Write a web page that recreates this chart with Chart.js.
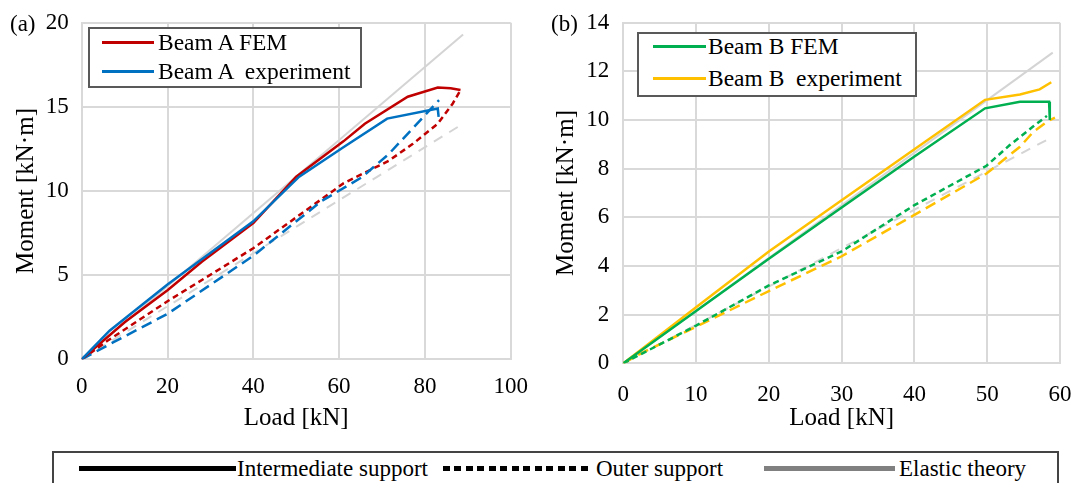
<!DOCTYPE html>
<html>
<head>
<meta charset="utf-8">
<script src="https://cdn.jsdelivr.net/npm/chart.js@4.4.0/dist/chart.umd.min.js"></script>
<style>
  body { margin: 0; background: #fff; font-family: "Liberation Serif", "Times New Roman", serif; }
  #page { position: relative; width: 1075px; height: 483px; overflow: hidden; background: #fff; }
  canvas { position: absolute; top: 0; }
  .tag { position: absolute; font-size: 23px; line-height: 1; color: #000; }
  .box { position: absolute; box-sizing: border-box; border: 2px solid #595959; background: #fff; }
  .txt { position: absolute; line-height: 1; white-space: pre; color: #000; }
  .sw { position: absolute; }
</style>
</head>
<body>
<div id="page">
  <canvas id="chartA" width="540" height="445" style="left:0px"></canvas>
  <canvas id="chartB" width="535" height="445" style="left:540px"></canvas>

  <div class="tag" style="left:10px; top:12px">(a)</div>
  <div class="tag" style="left:551px; top:12px">(b)</div>

  <!-- series legend, beam A -->
  <div class="box" style="left:88px; top:27px; width:274px; height:61px"></div>
  <div class="sw" style="left:102px; top:41px; width:52px; height:3px; background:#C00000"></div>
  <div class="txt" style="left:158px; top:31px; font-size:23.5px">Beam A FEM</div>
  <div class="sw" style="left:102px; top:70px; width:52px; height:3px; background:#0070C0"></div>
  <div class="txt" style="left:158px; top:60px; font-size:23.5px">Beam A  experiment</div>

  <!-- series legend, beam B -->
  <div class="box" style="left:637px; top:32px; width:280px; height:65px"></div>
  <div class="sw" style="left:653px; top:45px; width:53px; height:3px; background:#00B050"></div>
  <div class="txt" style="left:708px; top:35px; font-size:23.5px">Beam B FEM</div>
  <div class="sw" style="left:653px; top:77px; width:53px; height:3px; background:#FFC000"></div>
  <div class="txt" style="left:708px; top:67px; font-size:23.5px">Beam B  experiment</div>

  <!-- line style legend -->
  <div class="box" style="left:52px; top:451px; width:1007px; height:45px; border-color:#444"></div>
  <div class="sw" style="left:79px; top:466px; width:157px; height:5px; background:#000"></div>
  <div class="txt" style="left:237px; top:457px; font-size:23px">Intermediate support</div>
  <div class="sw" style="left:443px; top:466px; width:149px; height:5px; background:repeating-linear-gradient(to right, #000 0 7px, transparent 7px 11.5px)"></div>
  <div class="txt" style="left:596px; top:457px; font-size:23px">Outer support</div>
  <div class="sw" style="left:764px; top:466px; width:131px; height:5px; background:#808080"></div>
  <div class="txt" style="left:899px; top:457px; font-size:23px">Elastic theory</div>
</div>

<script>
// Beam A: load [kN] vs moment [kN·m]
const loadA_femInter = [0, 10, 20, 28, 40, 50, 61, 66, 76, 83, 86, 88.3];
const momentA_femInter = [0, 2.2, 4.1, 5.8, 8.1, 10.85, 12.95, 14.0, 15.6, 16.15, 16.1, 16.0];
const loadA_expInter = [0, 6.5, 20, 40, 50.7, 61, 71.2, 83, 83.2];
const momentA_expInter = [0, 1.7, 4.45, 8.2, 10.85, 12.6, 14.3, 14.9, 14.4];
const loadA_femOuter = [0, 6, 20, 40, 61, 71.6, 77.2, 83, 86.5, 88.3];
const momentA_femOuter = [0, 1.1, 3.45, 6.6, 10.45, 11.8, 12.8, 14.0, 15.2, 16.0];
const loadA_expOuter = [0, 7.3, 20, 40, 55.9, 65.2, 71.6, 83.3];
const momentA_expOuter = [0, 1.0, 2.7, 6.15, 9.4, 10.8, 12.2, 15.4];
const loadA_elastic = [0, 88.9];
const momentA_elasticInter = [0, 19.3];
const momentA_elasticOuter = [0, 14.0];

// Beam B
const loadB_femInter = [0, 10, 20, 30, 40, 49.7, 54.5, 58.5, 58.6];
const momentB_femInter = [0, 2.15, 4.3, 6.4, 8.5, 10.48, 10.75, 10.75, 10.0];
const loadB_expInter = [0, 10, 20, 30, 40, 49.7, 54.5, 57.2, 58.8];
const momentB_expInter = [0, 2.3, 4.6, 6.7, 8.8, 10.83, 11.05, 11.26, 11.55];
const loadB_femOuter = [0, 10, 20, 30, 40, 49.9, 53.1, 56.3, 58.2];
const momentB_femOuter = [0, 1.55, 3.2, 4.6, 6.5, 8.12, 8.97, 9.73, 10.17];
const loadB_expOuter = [0, 2.7, 10, 20, 30, 40, 49.9, 54.5, 56.3, 58.2, 59.3];
const momentB_expOuter = [0, 0.45, 1.5, 2.97, 4.4, 6.1, 7.8, 8.9, 9.5, 9.93, 10.1];
const loadB_elastic = [0, 59.0];
const momentB_elasticInter = [0, 12.77];
const momentB_elasticOuter = [0, 9.31];

const FONT = "'Liberation Serif', 'Times New Roman', serif";
const GRID = '#D9D9D9';
const ELASTIC = '#D4D4D4';

function pts(xs, ys) {
    return xs.map((x, i) => ({ x: x, y: ys[i] }));
}

function series(label, xs, ys, color, dash, width) {
    return {
        label: label,
        data: pts(xs, ys),
        borderColor: color,
        backgroundColor: color,
        borderWidth: width,
        borderDash: dash,
        pointRadius: 0,
        fill: false,
        tension: 0
    };
}

// fixed scale sizes keep the plot area where it belongs
function makeOptions(s) {
    return {
        responsive: false,
        animation: false,
        devicePixelRatio: 1,
        layout: { padding: s.padding },
        plugins: { legend: { display: false }, tooltip: { enabled: false } },
        scales: {
            x: {
                type: 'linear',
                min: 0, max: s.xMax,
                ticks: { stepSize: s.xStep, color: '#000', font: { family: FONT, size: 23 }, padding: s.xTickPad, maxRotation: 0 },
                grid: { color: GRID, lineWidth: 2, drawTicks: false },
                border: { color: GRID, width: 2 },
                title: { display: true, text: 'Load [kN]', color: '#000', font: { family: FONT, size: 25 }, padding: 0 },
                afterFit: (sc) => {
                    sc.height = s.xHeight;
                    sc.paddingLeft = 0; sc.paddingRight = 0;
                }
            },
            y: {
                min: 0, max: s.yMax,
                ticks: { stepSize: s.yStep, color: '#000', font: { family: FONT, size: 23 }, padding: s.yTickPad },
                grid: { color: GRID, lineWidth: 2, drawTicks: false },
                border: { color: GRID, width: 2 },
                title: { display: true, text: 'Moment [kN·m]', color: '#000', font: { family: FONT, size: 25 }, padding: { top: 11, bottom: 0 } },
                afterFit: (sc) => {
                    sc.width = s.yWidth;
                    sc.paddingTop = 0; sc.paddingBottom = 0;
                }
            }
        }
    };
}

const chartA = new Chart(document.getElementById('chartA'), {
    type: 'line',
    data: {
        datasets: [
            series('Beam A experiment', loadA_expInter, momentA_expInter, '#0070C0', [], 2.5),
            series('Beam A FEM', loadA_femInter, momentA_femInter, '#C00000', [], 2.5),
            series('Beam A experiment outer', loadA_expOuter, momentA_expOuter, '#0070C0', [11, 6], 2.5),
            series('Beam A FEM outer', loadA_femOuter, momentA_femOuter, '#C00000', [6, 4], 2.5),
            series('Elastic theory', loadA_elastic, momentA_elasticInter, ELASTIC, [], 2),
            series('Elastic theory outer', loadA_elastic, momentA_elasticOuter, ELASTIC, [10, 8], 2)
        ]
    },
    options: makeOptions({
        xMax: 100, xStep: 20, yMax: 20, yStep: 5,
        padding: { left: 0, top: 22.7, right: 29.3, bottom: 12 },
        yWidth: 81.7, xHeight: 73.7, xTickPad: 14, yTickPad: 13
    })
});

const chartB = new Chart(document.getElementById('chartB'), {
    type: 'line',
    data: {
        datasets: [
            series('Beam B FEM', loadB_femInter, momentB_femInter, '#00B050', [], 2.5),
            series('Beam B experiment', loadB_expInter, momentB_expInter, '#FFC000', [], 2.5),
            series('Beam B FEM outer', loadB_femOuter, momentB_femOuter, '#00B050', [6, 4], 2.5),
            series('Beam B experiment outer', loadB_expOuter, momentB_expOuter, '#FFC000', [11, 6], 2.5),
            series('Elastic theory', loadB_elastic, momentB_elasticInter, ELASTIC, [], 2),
            series('Elastic theory outer', loadB_elastic, momentB_elasticOuter, ELASTIC, [10, 8], 2)
        ]
    },
    options: makeOptions({
        xMax: 60, xStep: 10, yMax: 14, yStep: 2,
        padding: { left: 0, top: 22.7, right: 15, bottom: 12 },
        yWidth: 83.3, xHeight: 69.7, xTickPad: 18, yTickPad: 14
    })
});
</script>
</body>
</html>
